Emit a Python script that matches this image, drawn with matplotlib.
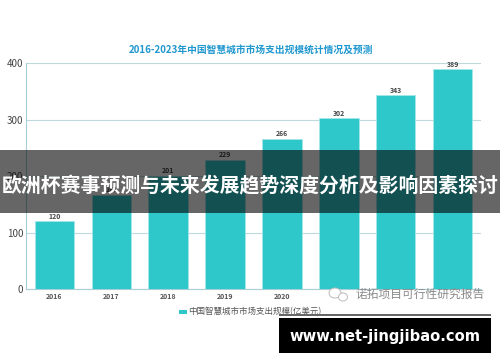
import matplotlib
matplotlib.use('Agg')
import matplotlib.pyplot as plt
from matplotlib.patches import Rectangle, Ellipse

plt.rcParams['font.family'] = ['Noto Sans CJK SC', 'DejaVu Sans']

years = ['2016', '2017', '2018', '2019', '2020', '2021', '2022', '2023']
values = [120, 167, 201, 229, 266, 302, 343, 389]
tick_labels = ['2016', '2017', '2018', '2019', '2020', '', '', '']
y_ticks = [0, 100, 200, 300, 400]
title = '2016-2023年中国智慧城市市场支出规模统计情况及预测'
legend_label = '中国智慧城市市场支出规模(亿美元)'
banner = '欧洲杯赛事预测与未来发展趋势深度分析及影响因素探讨'
watermark = '诺拓项目可行性研究报告'
site = 'www.net-jingjibao.com'

W, H = 500, 362
fig = plt.figure(figsize=(W / 100, H / 100), dpi=100, facecolor='white')
ax = fig.add_axes([26 / W, 1 - 289.3 / H, 455 / W, 226.3 / H])

pos = list(range(len(years)))
bars = ax.bar(pos, values, width=0.695, color='#2ec8cb', edgecolor='#a5e6e8', linewidth=0.6, zorder=3)
for p, v in zip(pos, values):
    ax.text(p, v + 3, str(v), ha='center', va='bottom', fontsize=5, fontweight='bold',
            color='#444444', zorder=4)

ax.set_xlim(-0.5, 7.5)
ax.set_ylim(0, 400)
ax.set_yticks(y_ticks)
ax.set_xticks(pos)
ax.set_xticklabels(tick_labels, fontsize=5, fontweight='bold', color='#555555')
ax.tick_params(axis='x', length=0, pad=3)
ax.tick_params(axis='y', length=0, pad=2, labelsize=7, labelcolor='#444444')
ax.grid(axis='y', color='#bcd9de', linewidth=0.8, zorder=1)
ax.set_axisbelow(True)
for s in ['top', 'right']:
    ax.spines[s].set_visible(False)
for s in ['left', 'bottom']:
    ax.spines[s].set_color('#a9cfd6')
    ax.spines[s].set_linewidth(0.8)

def px(x, y):
    return x / W, 1 - y / H

fig.text(*px(251, 50), title, ha='center', va='center', fontsize=7, fontweight='bold', color='#1f97cf')

# legend
fig.patches.append(Rectangle(px(179, 314), 7.5 / W, 4.5 / H, transform=fig.transFigure,
                             facecolor='#2ec8cb', edgecolor='none'))
fig.text(*px(188, 311.5), legend_label, ha='left', va='center', fontsize=6.15, color='#555555')

# watermark
for cx, cy, w, h in [(335, 293, 12, 10), (343, 297, 9, 8)]:
    fig.patches.append(Ellipse(px(cx, cy), w / W, h / H, transform=fig.transFigure,
                               facecolor='white', edgecolor='#bbbbbb', linewidth=0.7, zorder=5))
fig.text(*px(355, 294.5), watermark, ha='left', va='center', fontsize=8.5, color='#8a8a8a', zorder=6)

# banner
fig.patches.append(Rectangle(px(0, 213), 1, 63 / H, transform=fig.transFigure,
                             facecolor='black', alpha=0.6, edgecolor='none', zorder=10))
fig.text(*px(250, 186), banner, ha='center', va='center', fontsize=14.3, fontweight='bold',
         color='white', zorder=11)

# site box
fig.patches.append(Rectangle(px(279, 316), 212 / W, 2 / H, transform=fig.transFigure,
                             facecolor='#666666', edgecolor='none', zorder=10))
fig.patches.append(Rectangle(px(279, 353), 212 / W, 35 / H, transform=fig.transFigure,
                             facecolor='black', edgecolor='none', zorder=10))
fig.text(*px(385, 337), site, ha='center', va='center', fontsize=10.6, fontweight='bold',
         family='DejaVu Sans', color='white', zorder=11)

fig.savefig('out.png', dpi=100)
